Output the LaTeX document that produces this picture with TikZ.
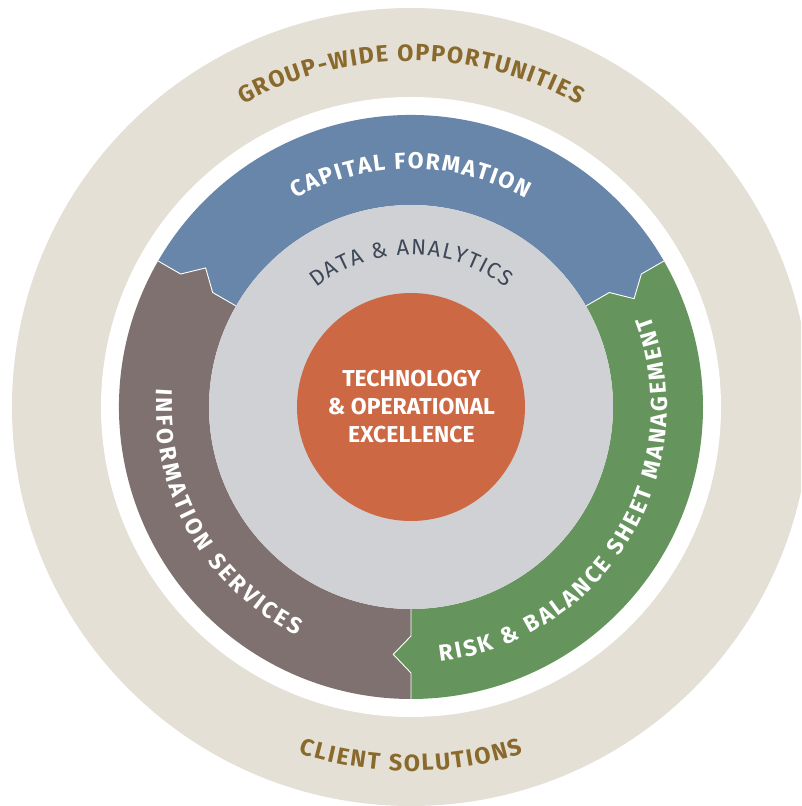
\documentclass[tikz,border=0pt]{standalone}
\usepackage{fontspec}
\setmainfont{Fira Sans}
\usetikzlibrary{decorations.text}
\definecolor{beige}{HTML}{E4E0D5}
\definecolor{gold}{HTML}{8A6A2C}
\definecolor{capblue}{HTML}{6886A9}
\definecolor{infobrown}{HTML}{7F716F}
\definecolor{riskgreen}{HTML}{65955D}
\definecolor{datagray}{HTML}{D0D1D5}
\definecolor{techorange}{HTML}{CC6844}
\definecolor{darktext}{HTML}{3E4858}
\newcommand{\outerfont}{\fontsize{23.5}{23.5}\selectfont\bfseries}
\newcommand{\ringfont}{\fontsize{23}{23}\selectfont\bfseries}
\newcommand{\datafont}{\fontsize{22}{22}\selectfont}
% segment with tab at start edge #1 and notch at end edge #2
\newcommand{\ringseg}[3]{%
  \fill[#3] (#1:202pt) -- (#1:229pt) -- ({#1-4.1}:248pt) -- (#1:266pt) -- (#1:292pt)
    arc[start angle=#1, end angle=#2, radius=292pt]
    -- (#2:266pt) -- ({#2-4.1}:248pt) -- (#2:229pt) -- (#2:202pt)
    arc[start angle=#2, end angle=#1, radius=202pt] -- cycle;}
\newcommand{\seamline}[1]{%
  \draw[seam] (#1:292pt) -- (#1:266pt) -- ({#1-4.1}:248pt) -- (#1:229pt) -- (#1:202pt);}
\begin{document}
\begin{tikzpicture}[
  seam/.style={white, line width=0.9pt, line join=miter},
  curvetext/.style={decorate, decoration={text along path, text align=fit to path}}
]
\useasboundingbox (-411pt,-399pt) rectangle (390pt,407pt);
\clip (-411pt,-399pt) rectangle (390pt,407pt);
\fill[white] (-411pt,-399pt) rectangle (390pt,407pt);
\fill[beige] (0,0) circle[radius=399pt];
\fill[white] (0,0) circle[radius=310pt];
\ringseg{30}{150}{capblue}
\ringseg{150}{270}{infobrown}
\ringseg{270}{390}{riskgreen}
\seamline{30}
\seamline{150}
\seamline{270}
\fill[datagray] (0,0) circle[radius=202pt];
\node[circle, fill=techorange, minimum size=228pt, inner sep=0pt] (tech) at (0,0) {};
\node[text=white, align=center, font=\fontsize{23}{28}\selectfont\bfseries] (techtext) at (0.5pt,0pt)
  {TECHNOLOGY\\{\&} OPERATIONAL\\EXCELLENCE};
% outer texts
\path[curvetext, decoration={text color=gold, text={|\outerfont|GROUP-WIDE OPPORTUNITIES}}]
  (119:346pt) arc[start angle=119, end angle=61, radius=346pt];
\path[curvetext, decoration={text color=gold, text={|\outerfont|CLIENT SOLUTIONS}}]
  (252:364pt) arc[start angle=252, end angle=288, radius=364pt];
% ring texts
\path[curvetext, decoration={text color=white, text={|\ringfont|CAPITAL FORMATION}}]
  (119:238pt) arc[start angle=119, end angle=61, radius=238pt];
\path[curvetext, decoration={text color=white, text={|\ringfont|INFORMATION SERVICES}}]
  (175.8:255pt) arc[start angle=175.8, end angle=243.5, radius=255pt];
\path[curvetext, decoration={text color=white, text={|\ringfont|RISK {\&} BALANCE SHEET MANAGEMENT}}]
  (276.5:256pt) arc[start angle=276.5, end angle=380.8, radius=256pt];
% data text
\path[curvetext, decoration={text color=darktext, text={|\datafont|DATA {\&} ANALYTICS}}]
  (128.5:152pt) arc[start angle=128.5, end angle=51.5, radius=152pt];
\end{tikzpicture}
\end{document}
